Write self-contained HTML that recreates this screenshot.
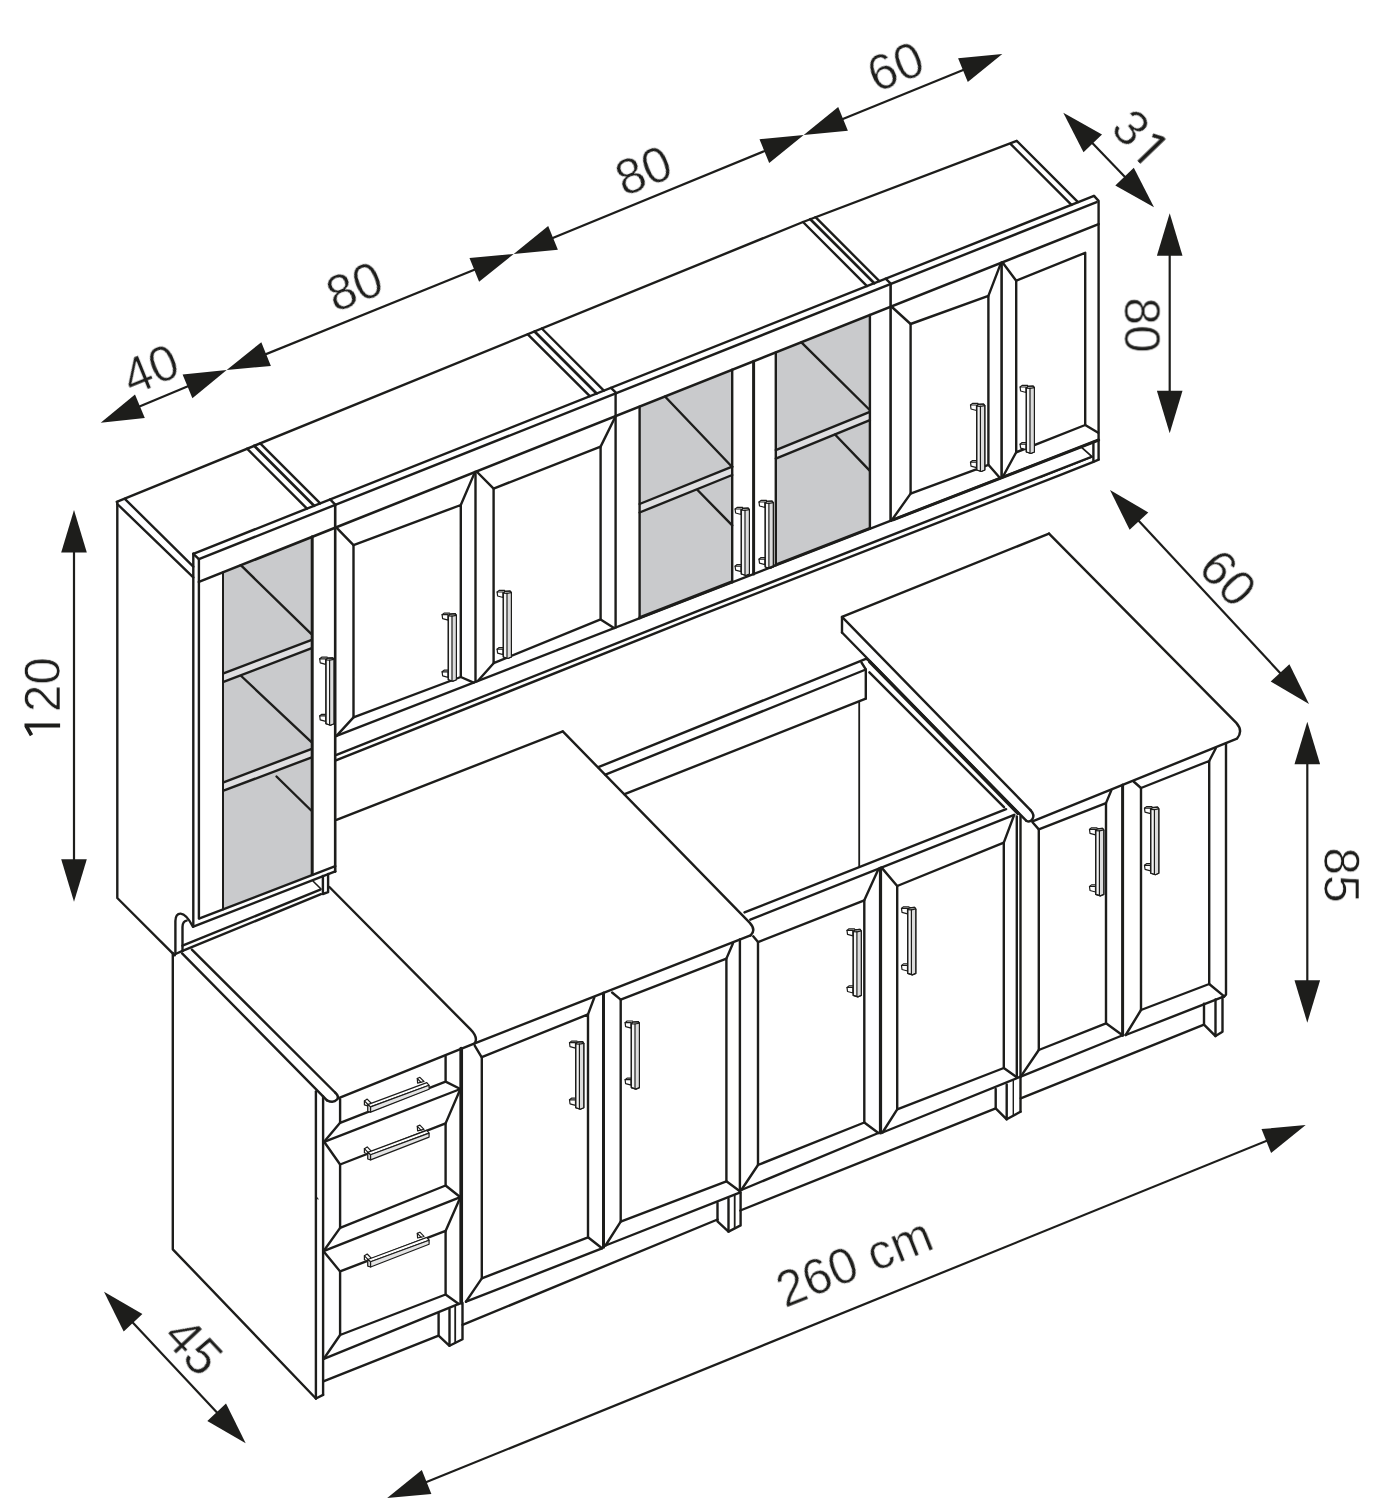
<!DOCTYPE html>
<html><head><meta charset="utf-8"><title>Kitchen cabinet dimensions</title>
<style>
html,body{margin:0;padding:0;background:#fff;}
body{width:1385px;height:1500px;overflow:hidden;font-family:"Liberation Sans",sans-serif;}
svg{display:block;}
text{font-family:"Liberation Sans",sans-serif;fill:#1d1d1b;}
</style></head><body>
<svg width="1385" height="1500" viewBox="0 0 1385 1500">
<rect width="1385" height="1500" fill="#fff"/>
<path d="M116.7 501.9 L803 222 L1016.7 140.8 L1078 202.1" fill="none" stroke="#1d1d1b" stroke-width="2.4" stroke-linejoin="round" stroke-linecap="round"/>
<path d="M1010.8 144.2 L1071.5 204.9" fill="none" stroke="#1d1d1b" stroke-width="2.4" stroke-linejoin="round" stroke-linecap="round"/>
<path d="M117.3 504 L193.3 577.4" fill="none" stroke="#1d1d1b" stroke-width="2.4" stroke-linejoin="round" stroke-linecap="round"/>
<path d="M124.8 498.8 L193.3 566.7" fill="none" stroke="#1d1d1b" stroke-width="2.4" stroke-linejoin="round" stroke-linecap="round"/>
<path d="M117.3 501.9 L117.3 898 L174.7 955.3" fill="none" stroke="#1d1d1b" stroke-width="2.4" stroke-linejoin="round" stroke-linecap="round"/>
<path d="M247.1 448.7 L307 508.6" fill="none" stroke="#1d1d1b" stroke-width="2.4" stroke-linejoin="round" stroke-linecap="round"/>
<path d="M254.2 445.8 L314.1 505.8" fill="none" stroke="#1d1d1b" stroke-width="2.7" stroke-linejoin="round" stroke-linecap="round"/>
<path d="M260.2 443.4 L320.2 503.4" fill="none" stroke="#1d1d1b" stroke-width="2.4" stroke-linejoin="round" stroke-linecap="round"/>
<path d="M527.8 334.3 L589.8 396.2" fill="none" stroke="#1d1d1b" stroke-width="2.4" stroke-linejoin="round" stroke-linecap="round"/>
<path d="M534.6 331.5 L596.6 393.5" fill="none" stroke="#1d1d1b" stroke-width="2.7" stroke-linejoin="round" stroke-linecap="round"/>
<path d="M541.8 328.5 L603.9 390.6" fill="none" stroke="#1d1d1b" stroke-width="2.4" stroke-linejoin="round" stroke-linecap="round"/>
<path d="M803 222 L867 286.1" fill="none" stroke="#1d1d1b" stroke-width="2.4" stroke-linejoin="round" stroke-linecap="round"/>
<path d="M810.3 219.2 L874.3 283.2" fill="none" stroke="#1d1d1b" stroke-width="2.7" stroke-linejoin="round" stroke-linecap="round"/>
<path d="M815.5 217.2 L879.4 281.1" fill="none" stroke="#1d1d1b" stroke-width="2.4" stroke-linejoin="round" stroke-linecap="round"/>
<path d="M193.3 553.8 L193.3 926.3" fill="none" stroke="#1d1d1b" stroke-width="2.4" stroke-linejoin="round" stroke-linecap="round"/>
<path d="M198.9 559.1 L198.9 918.5" fill="none" stroke="#1d1d1b" stroke-width="2.4" stroke-linejoin="round" stroke-linecap="round"/>
<path d="M223.5 572.1 L311.8 537 L311.8 874.8 L223.5 908.8 Z" fill="#c9cacc" stroke="none" stroke-width="0" stroke-linejoin="round" stroke-linecap="round"/>
<path d="M223.5 673.4 L311.8 639.8 L311.8 648.2 L223.5 681.8 Z" fill="#dfdfe1" stroke="none" stroke-width="0" stroke-linejoin="round" stroke-linecap="round"/>
<path d="M223.5 673.4 L311.8 639.8" fill="none" stroke="#1d1d1b" stroke-width="2.4" stroke-linejoin="round" stroke-linecap="round"/>
<path d="M223.5 681.8 L311.8 648.2" fill="none" stroke="#1d1d1b" stroke-width="2.4" stroke-linejoin="round" stroke-linecap="round"/>
<path d="M223.5 782.3 L311.8 748.9 L311.8 757.3 L223.5 790.7 Z" fill="#dfdfe1" stroke="none" stroke-width="0" stroke-linejoin="round" stroke-linecap="round"/>
<path d="M223.5 782.3 L311.8 748.9" fill="none" stroke="#1d1d1b" stroke-width="2.4" stroke-linejoin="round" stroke-linecap="round"/>
<path d="M223.5 790.7 L311.8 757.3" fill="none" stroke="#1d1d1b" stroke-width="2.4" stroke-linejoin="round" stroke-linecap="round"/>
<path d="M240.8 565.2 L311.2 633.8" fill="none" stroke="#1d1d1b" stroke-width="2.4" stroke-linejoin="round" stroke-linecap="round"/>
<path d="M241.2 676 L311.2 741.8" fill="none" stroke="#1d1d1b" stroke-width="2.4" stroke-linejoin="round" stroke-linecap="round"/>
<path d="M276.5 776.5 L311.2 810.5" fill="none" stroke="#1d1d1b" stroke-width="2.4" stroke-linejoin="round" stroke-linecap="round"/>
<path d="M223 572.3 L223 909.4" fill="none" stroke="#1d1d1b" stroke-width="2" stroke-linejoin="round" stroke-linecap="round"/>
<path d="M312.2 536.8 L312.2 874.4" fill="none" stroke="#1d1d1b" stroke-width="3" stroke-linejoin="round" stroke-linecap="round"/>
<path d="M199.6 918.4 L335.3 866.2" fill="none" stroke="#1d1d1b" stroke-width="2.4" stroke-linejoin="round" stroke-linecap="round"/>
<path d="M193.3 926.6 L335.3 871.4" fill="none" stroke="#1d1d1b" stroke-width="2.4" stroke-linejoin="round" stroke-linecap="round"/>
<path d="M335.2 504.9 L335.2 871.6" fill="none" stroke="#1d1d1b" stroke-width="2.6" stroke-linejoin="round" stroke-linecap="round"/>
<path d="M175.4 954 L175.4 921 Q175.6 913.5 180.6 913.6 Q186.5 914 192.9 926.7" fill="none" stroke="#1d1d1b" stroke-width="2.4" stroke-linejoin="round" stroke-linecap="round"/>
<path d="M182.5 950.9 L182.5 927 Q182.7 921 186.6 920.6" fill="none" stroke="#1d1d1b" stroke-width="2.4" stroke-linejoin="round" stroke-linecap="round"/>
<path d="M175.4 954 L182.5 950.9" fill="none" stroke="#1d1d1b" stroke-width="2.4" stroke-linejoin="round" stroke-linecap="round"/>
<path d="M182.5 945.7 L320.3 889.6" fill="none" stroke="#1d1d1b" stroke-width="2.4" stroke-linejoin="round" stroke-linecap="round"/>
<path d="M182.5 950.9 L321 894.2" fill="none" stroke="#1d1d1b" stroke-width="2.4" stroke-linejoin="round" stroke-linecap="round"/>
<path d="M322.9 876 L322.9 894 L328.1 892.2 L328.1 874" fill="none" stroke="#1d1d1b" stroke-width="2.4" stroke-linejoin="round" stroke-linecap="round"/>
<path d="M313.2 881.2 L321 889" fill="none" stroke="#1d1d1b" stroke-width="1.6" stroke-linejoin="round" stroke-linecap="round"/>
<path d="M319.7 658.8 L325.7 658.8 L325.7 664.3 L320.2 662.8 Z" fill="#fff" stroke="#1d1d1b" stroke-width="1.2" stroke-linejoin="round" stroke-linecap="round"/>
<path d="M319.7 658.8 L321.7 657.2 L327.2 657.2" fill="none" stroke="#1d1d1b" stroke-width="1.2" stroke-linejoin="round" stroke-linecap="round"/>
<path d="M319.7 715.9 L325.7 715.9 L325.7 721.4 L320.2 719.9 Z" fill="#fff" stroke="#1d1d1b" stroke-width="1.2" stroke-linejoin="round" stroke-linecap="round"/>
<path d="M319.7 715.9 L321.7 714.3 L327.2 714.3" fill="none" stroke="#1d1d1b" stroke-width="1.2" stroke-linejoin="round" stroke-linecap="round"/>
<path d="M325.9 660 L327.4 658.2 L332.8 657.8 L334 659.4 L334 723.8 L330.5 725.3 L325.9 723.8 Z" fill="#f3f3f3" stroke="#1d1d1b" stroke-width="1.2" stroke-linejoin="round" stroke-linecap="round"/>
<path d="M329.6 660.2 L333.6 659.6 L333.6 723.5 L329.6 724.7 Z" fill="#dcdcdc" stroke="none" stroke-width="0" stroke-linejoin="round" stroke-linecap="round"/>
<path d="M329.6 660 L329.6 724.8" fill="none" stroke="#1d1d1b" stroke-width="1.2" stroke-linejoin="round" stroke-linecap="round"/>
<path d="M325.9 660 L329.6 660.2 L334 659.4" fill="none" stroke="#1d1d1b" stroke-width="1.2" stroke-linejoin="round" stroke-linecap="round"/>
<path d="M325.9 660 L327.4 658.2 L332.8 657.8 L334 659.4 L334 723.8 L330.5 725.3 L325.9 723.8 Z" fill="none" stroke="#1d1d1b" stroke-width="1.2" stroke-linejoin="round" stroke-linecap="round"/>
<path d="M475.5 471.9 L475.5 681.9" fill="none" stroke="#1d1d1b" stroke-width="2.4" stroke-linejoin="round" stroke-linecap="round"/>
<path d="M353.5 545.1 L460.8 505 L460.8 677 L353.5 717.4 Z" fill="none" stroke="#1d1d1b" stroke-width="2.4" stroke-linejoin="round" stroke-linecap="round"/>
<path d="M336.2 527.3 L353.5 545.1" fill="none" stroke="#1d1d1b" stroke-width="2.4" stroke-linejoin="round" stroke-linecap="round"/>
<path d="M474.9 472.1 L460.8 505" fill="none" stroke="#1d1d1b" stroke-width="2.4" stroke-linejoin="round" stroke-linecap="round"/>
<path d="M473.6 682.7 L460.8 677" fill="none" stroke="#1d1d1b" stroke-width="2.4" stroke-linejoin="round" stroke-linecap="round"/>
<path d="M336.5 735.9 L353.5 717.4" fill="none" stroke="#1d1d1b" stroke-width="2.4" stroke-linejoin="round" stroke-linecap="round"/>
<path d="M493.6 488.6 L600.6 446.6 L600.6 619.4 L493.6 663.2 Z" fill="none" stroke="#1d1d1b" stroke-width="2.4" stroke-linejoin="round" stroke-linecap="round"/>
<path d="M476.6 471.5 L493.6 488.6" fill="none" stroke="#1d1d1b" stroke-width="2.4" stroke-linejoin="round" stroke-linecap="round"/>
<path d="M615.6 416.2 L600.6 446.6" fill="none" stroke="#1d1d1b" stroke-width="2.4" stroke-linejoin="round" stroke-linecap="round"/>
<path d="M614 628.1 L600.6 619.4" fill="none" stroke="#1d1d1b" stroke-width="2.4" stroke-linejoin="round" stroke-linecap="round"/>
<path d="M477.8 681 L493.6 663.2" fill="none" stroke="#1d1d1b" stroke-width="2.4" stroke-linejoin="round" stroke-linecap="round"/>
<path d="M442.1 614.7 L448.1 614.7 L448.1 620.2 L442.6 618.7 Z" fill="#fff" stroke="#1d1d1b" stroke-width="1.2" stroke-linejoin="round" stroke-linecap="round"/>
<path d="M442.1 614.7 L444.1 613.1 L449.6 613.1" fill="none" stroke="#1d1d1b" stroke-width="1.2" stroke-linejoin="round" stroke-linecap="round"/>
<path d="M442.1 671.8 L448.1 671.8 L448.1 677.3 L442.6 675.8 Z" fill="#fff" stroke="#1d1d1b" stroke-width="1.2" stroke-linejoin="round" stroke-linecap="round"/>
<path d="M442.1 671.8 L444.1 670.2 L449.6 670.2" fill="none" stroke="#1d1d1b" stroke-width="1.2" stroke-linejoin="round" stroke-linecap="round"/>
<path d="M448.3 615.9 L449.8 614.1 L455.2 613.7 L456.4 615.3 L456.4 679.7 L452.9 681.2 L448.3 679.7 Z" fill="#f3f3f3" stroke="#1d1d1b" stroke-width="1.2" stroke-linejoin="round" stroke-linecap="round"/>
<path d="M452 616.1 L456 615.5 L456 679.4 L452 680.6 Z" fill="#dcdcdc" stroke="none" stroke-width="0" stroke-linejoin="round" stroke-linecap="round"/>
<path d="M452 615.9 L452 680.7" fill="none" stroke="#1d1d1b" stroke-width="1.2" stroke-linejoin="round" stroke-linecap="round"/>
<path d="M448.3 615.9 L452 616.1 L456.4 615.3" fill="none" stroke="#1d1d1b" stroke-width="1.2" stroke-linejoin="round" stroke-linecap="round"/>
<path d="M448.3 615.9 L449.8 614.1 L455.2 613.7 L456.4 615.3 L456.4 679.7 L452.9 681.2 L448.3 679.7 Z" fill="none" stroke="#1d1d1b" stroke-width="1.2" stroke-linejoin="round" stroke-linecap="round"/>
<path d="M497.1 592 L503.1 592 L503.1 597.5 L497.6 596 Z" fill="#fff" stroke="#1d1d1b" stroke-width="1.2" stroke-linejoin="round" stroke-linecap="round"/>
<path d="M497.1 592 L499.1 590.4 L504.6 590.4" fill="none" stroke="#1d1d1b" stroke-width="1.2" stroke-linejoin="round" stroke-linecap="round"/>
<path d="M497.1 649.1 L503.1 649.1 L503.1 654.6 L497.6 653.1 Z" fill="#fff" stroke="#1d1d1b" stroke-width="1.2" stroke-linejoin="round" stroke-linecap="round"/>
<path d="M497.1 649.1 L499.1 647.5 L504.6 647.5" fill="none" stroke="#1d1d1b" stroke-width="1.2" stroke-linejoin="round" stroke-linecap="round"/>
<path d="M503.3 593.2 L504.8 591.4 L510.2 591 L511.4 592.6 L511.4 657 L507.9 658.5 L503.3 657 Z" fill="#f3f3f3" stroke="#1d1d1b" stroke-width="1.2" stroke-linejoin="round" stroke-linecap="round"/>
<path d="M507 593.4 L511 592.8 L511 656.7 L507 657.9 Z" fill="#dcdcdc" stroke="none" stroke-width="0" stroke-linejoin="round" stroke-linecap="round"/>
<path d="M507 593.2 L507 658" fill="none" stroke="#1d1d1b" stroke-width="1.2" stroke-linejoin="round" stroke-linecap="round"/>
<path d="M503.3 593.2 L507 593.4 L511.4 592.6" fill="none" stroke="#1d1d1b" stroke-width="1.2" stroke-linejoin="round" stroke-linecap="round"/>
<path d="M503.3 593.2 L504.8 591.4 L510.2 591 L511.4 592.6 L511.4 657 L507.9 658.5 L503.3 657 Z" fill="none" stroke="#1d1d1b" stroke-width="1.2" stroke-linejoin="round" stroke-linecap="round"/>
<path d="M1001.6 262.7 L1001.6 477.6" fill="none" stroke="#1d1d1b" stroke-width="2.6" stroke-linejoin="round" stroke-linecap="round"/>
<path d="M910.6 324 L988.4 295.9 L988.4 464.8 L910.6 493.6 Z" fill="none" stroke="#1d1d1b" stroke-width="2.4" stroke-linejoin="round" stroke-linecap="round"/>
<path d="M891.4 306.5 L910.6 324" fill="none" stroke="#1d1d1b" stroke-width="2.4" stroke-linejoin="round" stroke-linecap="round"/>
<path d="M1001 262.9 L988.4 295.9" fill="none" stroke="#1d1d1b" stroke-width="2.4" stroke-linejoin="round" stroke-linecap="round"/>
<path d="M1000.2 478.2 L988.4 464.8" fill="none" stroke="#1d1d1b" stroke-width="2.4" stroke-linejoin="round" stroke-linecap="round"/>
<path d="M891.6 520.4 L910.6 493.6" fill="none" stroke="#1d1d1b" stroke-width="2.4" stroke-linejoin="round" stroke-linecap="round"/>
<path d="M1016.2 280.7 L1085.2 252.8 L1085.2 425 L1016.2 452.3 Z" fill="none" stroke="#1d1d1b" stroke-width="2.4" stroke-linejoin="round" stroke-linecap="round"/>
<path d="M1002.4 262.3 L1016.2 280.7" fill="none" stroke="#1d1d1b" stroke-width="2.4" stroke-linejoin="round" stroke-linecap="round"/>
<path d="M1098.2 432.8 L1085.2 425" fill="none" stroke="#1d1d1b" stroke-width="2.4" stroke-linejoin="round" stroke-linecap="round"/>
<path d="M1002.6 477.3 L1016.2 452.3" fill="none" stroke="#1d1d1b" stroke-width="2.4" stroke-linejoin="round" stroke-linecap="round"/>
<path d="M970.5 405 L976.5 405 L976.5 410.5 L971 409 Z" fill="#fff" stroke="#1d1d1b" stroke-width="1.2" stroke-linejoin="round" stroke-linecap="round"/>
<path d="M970.5 405 L972.5 403.4 L978 403.4" fill="none" stroke="#1d1d1b" stroke-width="1.2" stroke-linejoin="round" stroke-linecap="round"/>
<path d="M970.5 462.1 L976.5 462.1 L976.5 467.6 L971 466.1 Z" fill="#fff" stroke="#1d1d1b" stroke-width="1.2" stroke-linejoin="round" stroke-linecap="round"/>
<path d="M970.5 462.1 L972.5 460.5 L978 460.5" fill="none" stroke="#1d1d1b" stroke-width="1.2" stroke-linejoin="round" stroke-linecap="round"/>
<path d="M976.7 406.2 L978.2 404.4 L983.6 404 L984.8 405.6 L984.8 470 L981.3 471.5 L976.7 470 Z" fill="#f3f3f3" stroke="#1d1d1b" stroke-width="1.2" stroke-linejoin="round" stroke-linecap="round"/>
<path d="M980.4 406.4 L984.4 405.8 L984.4 469.7 L980.4 470.9 Z" fill="#dcdcdc" stroke="none" stroke-width="0" stroke-linejoin="round" stroke-linecap="round"/>
<path d="M980.4 406.2 L980.4 471" fill="none" stroke="#1d1d1b" stroke-width="1.2" stroke-linejoin="round" stroke-linecap="round"/>
<path d="M976.7 406.2 L980.4 406.4 L984.8 405.6" fill="none" stroke="#1d1d1b" stroke-width="1.2" stroke-linejoin="round" stroke-linecap="round"/>
<path d="M976.7 406.2 L978.2 404.4 L983.6 404 L984.8 405.6 L984.8 470 L981.3 471.5 L976.7 470 Z" fill="none" stroke="#1d1d1b" stroke-width="1.2" stroke-linejoin="round" stroke-linecap="round"/>
<path d="M1020.1 387 L1026.1 387 L1026.1 392.5 L1020.6 391 Z" fill="#fff" stroke="#1d1d1b" stroke-width="1.2" stroke-linejoin="round" stroke-linecap="round"/>
<path d="M1020.1 387 L1022.1 385.4 L1027.6 385.4" fill="none" stroke="#1d1d1b" stroke-width="1.2" stroke-linejoin="round" stroke-linecap="round"/>
<path d="M1020.1 444.1 L1026.1 444.1 L1026.1 449.6 L1020.6 448.1 Z" fill="#fff" stroke="#1d1d1b" stroke-width="1.2" stroke-linejoin="round" stroke-linecap="round"/>
<path d="M1020.1 444.1 L1022.1 442.5 L1027.6 442.5" fill="none" stroke="#1d1d1b" stroke-width="1.2" stroke-linejoin="round" stroke-linecap="round"/>
<path d="M1026.3 388.2 L1027.8 386.4 L1033.2 386 L1034.4 387.6 L1034.4 452 L1030.9 453.5 L1026.3 452 Z" fill="#f3f3f3" stroke="#1d1d1b" stroke-width="1.2" stroke-linejoin="round" stroke-linecap="round"/>
<path d="M1030 388.4 L1034 387.8 L1034 451.7 L1030 452.9 Z" fill="#dcdcdc" stroke="none" stroke-width="0" stroke-linejoin="round" stroke-linecap="round"/>
<path d="M1030 388.2 L1030 453" fill="none" stroke="#1d1d1b" stroke-width="1.2" stroke-linejoin="round" stroke-linecap="round"/>
<path d="M1026.3 388.2 L1030 388.4 L1034.4 387.6" fill="none" stroke="#1d1d1b" stroke-width="1.2" stroke-linejoin="round" stroke-linecap="round"/>
<path d="M1026.3 388.2 L1027.8 386.4 L1033.2 386 L1034.4 387.6 L1034.4 452 L1030.9 453.5 L1026.3 452 Z" fill="none" stroke="#1d1d1b" stroke-width="1.2" stroke-linejoin="round" stroke-linecap="round"/>
<path d="M639.6 406.6 L732.2 369.8 L732.2 581.2 L639.6 617.2 Z" fill="#c9cacc" stroke="none" stroke-width="0" stroke-linejoin="round" stroke-linecap="round"/>
<path d="M639.6 504 L732.2 466.7 L732.2 475 L639.6 512.5 Z" fill="#dfdfe1" stroke="none" stroke-width="0" stroke-linejoin="round" stroke-linecap="round"/>
<path d="M639.6 504 L732.2 466.7" fill="none" stroke="#1d1d1b" stroke-width="2.4" stroke-linejoin="round" stroke-linecap="round"/>
<path d="M639.6 512.5 L732.2 475" fill="none" stroke="#1d1d1b" stroke-width="2.4" stroke-linejoin="round" stroke-linecap="round"/>
<path d="M665 396.5 L732.2 467" fill="none" stroke="#1d1d1b" stroke-width="2.4" stroke-linejoin="round" stroke-linecap="round"/>
<path d="M697.5 490 L732.2 525.4" fill="none" stroke="#1d1d1b" stroke-width="2.4" stroke-linejoin="round" stroke-linecap="round"/>
<path d="M639.6 406.6 L639.6 618.2" fill="none" stroke="#1d1d1b" stroke-width="2.4" stroke-linejoin="round" stroke-linecap="round"/>
<path d="M732.2 369.8 L732.2 582.2" fill="none" stroke="#1d1d1b" stroke-width="2.4" stroke-linejoin="round" stroke-linecap="round"/>
<path d="M639.6 617.6 L732.2 581.6" fill="none" stroke="#1d1d1b" stroke-width="2.8" stroke-linejoin="round" stroke-linecap="round"/>
<path d="M775.8 352.5 L869.9 315 L869.9 527.8 L775.8 564.3 Z" fill="#c9cacc" stroke="none" stroke-width="0" stroke-linejoin="round" stroke-linecap="round"/>
<path d="M775.8 450.1 L869.9 411.8 L869.9 420.1 L775.8 458.6 Z" fill="#dfdfe1" stroke="none" stroke-width="0" stroke-linejoin="round" stroke-linecap="round"/>
<path d="M775.8 450.1 L869.9 411.8" fill="none" stroke="#1d1d1b" stroke-width="2.4" stroke-linejoin="round" stroke-linecap="round"/>
<path d="M775.8 458.6 L869.9 420.1" fill="none" stroke="#1d1d1b" stroke-width="2.4" stroke-linejoin="round" stroke-linecap="round"/>
<path d="M801.4 342.3 L869.7 410" fill="none" stroke="#1d1d1b" stroke-width="2.4" stroke-linejoin="round" stroke-linecap="round"/>
<path d="M835 434.5 L869.7 470.6" fill="none" stroke="#1d1d1b" stroke-width="2.4" stroke-linejoin="round" stroke-linecap="round"/>
<path d="M775.8 352.5 L775.8 565.3" fill="none" stroke="#1d1d1b" stroke-width="2.4" stroke-linejoin="round" stroke-linecap="round"/>
<path d="M869.9 315 L869.9 528.8" fill="none" stroke="#1d1d1b" stroke-width="2.4" stroke-linejoin="round" stroke-linecap="round"/>
<path d="M775.8 564.7 L869.9 528.2" fill="none" stroke="#1d1d1b" stroke-width="2.8" stroke-linejoin="round" stroke-linecap="round"/>
<path d="M753.6 361.3 L753.6 573.9" fill="none" stroke="#1d1d1b" stroke-width="3" stroke-linejoin="round" stroke-linecap="round"/>
<path d="M735.1 509 L741.1 509 L741.1 514.5 L735.6 513 Z" fill="#fff" stroke="#1d1d1b" stroke-width="1.2" stroke-linejoin="round" stroke-linecap="round"/>
<path d="M735.1 509 L737.1 507.4 L742.6 507.4" fill="none" stroke="#1d1d1b" stroke-width="1.2" stroke-linejoin="round" stroke-linecap="round"/>
<path d="M735.1 566.1 L741.1 566.1 L741.1 571.6 L735.6 570.1 Z" fill="#fff" stroke="#1d1d1b" stroke-width="1.2" stroke-linejoin="round" stroke-linecap="round"/>
<path d="M735.1 566.1 L737.1 564.5 L742.6 564.5" fill="none" stroke="#1d1d1b" stroke-width="1.2" stroke-linejoin="round" stroke-linecap="round"/>
<path d="M741.3 510.2 L742.8 508.4 L748.2 508 L749.4 509.6 L749.4 574 L745.9 575.5 L741.3 574 Z" fill="#f3f3f3" stroke="#1d1d1b" stroke-width="1.2" stroke-linejoin="round" stroke-linecap="round"/>
<path d="M745 510.4 L749 509.8 L749 573.7 L745 574.9 Z" fill="#dcdcdc" stroke="none" stroke-width="0" stroke-linejoin="round" stroke-linecap="round"/>
<path d="M745 510.2 L745 575" fill="none" stroke="#1d1d1b" stroke-width="1.2" stroke-linejoin="round" stroke-linecap="round"/>
<path d="M741.3 510.2 L745 510.4 L749.4 509.6" fill="none" stroke="#1d1d1b" stroke-width="1.2" stroke-linejoin="round" stroke-linecap="round"/>
<path d="M741.3 510.2 L742.8 508.4 L748.2 508 L749.4 509.6 L749.4 574 L745.9 575.5 L741.3 574 Z" fill="none" stroke="#1d1d1b" stroke-width="1.2" stroke-linejoin="round" stroke-linecap="round"/>
<path d="M759 502 L765 502 L765 507.5 L759.5 506 Z" fill="#fff" stroke="#1d1d1b" stroke-width="1.2" stroke-linejoin="round" stroke-linecap="round"/>
<path d="M759 502 L761 500.4 L766.5 500.4" fill="none" stroke="#1d1d1b" stroke-width="1.2" stroke-linejoin="round" stroke-linecap="round"/>
<path d="M759 559.1 L765 559.1 L765 564.6 L759.5 563.1 Z" fill="#fff" stroke="#1d1d1b" stroke-width="1.2" stroke-linejoin="round" stroke-linecap="round"/>
<path d="M759 559.1 L761 557.5 L766.5 557.5" fill="none" stroke="#1d1d1b" stroke-width="1.2" stroke-linejoin="round" stroke-linecap="round"/>
<path d="M765.2 503.2 L766.7 501.4 L772.1 501 L773.3 502.6 L773.3 567 L769.8 568.5 L765.2 567 Z" fill="#f3f3f3" stroke="#1d1d1b" stroke-width="1.2" stroke-linejoin="round" stroke-linecap="round"/>
<path d="M768.9 503.4 L772.9 502.8 L772.9 566.7 L768.9 567.9 Z" fill="#dcdcdc" stroke="none" stroke-width="0" stroke-linejoin="round" stroke-linecap="round"/>
<path d="M768.9 503.2 L768.9 568" fill="none" stroke="#1d1d1b" stroke-width="1.2" stroke-linejoin="round" stroke-linecap="round"/>
<path d="M765.2 503.2 L768.9 503.4 L773.3 502.6" fill="none" stroke="#1d1d1b" stroke-width="1.2" stroke-linejoin="round" stroke-linecap="round"/>
<path d="M765.2 503.2 L766.7 501.4 L772.1 501 L773.3 502.6 L773.3 567 L769.8 568.5 L765.2 567 Z" fill="none" stroke="#1d1d1b" stroke-width="1.2" stroke-linejoin="round" stroke-linecap="round"/>
<path d="M615.6 393.4 L615.6 627.5" fill="none" stroke="#1d1d1b" stroke-width="2.4" stroke-linejoin="round" stroke-linecap="round"/>
<path d="M890.6 284 L890.6 520.7" fill="none" stroke="#1d1d1b" stroke-width="2.6" stroke-linejoin="round" stroke-linecap="round"/>
<path d="M336.5 735.9 L1098.6 440" fill="none" stroke="#1d1d1b" stroke-width="2.4" stroke-linejoin="round" stroke-linecap="round"/>
<path d="M893 519.8 L1098.6 440" fill="none" stroke="#1d1d1b" stroke-width="3" stroke-linejoin="round" stroke-linecap="round"/>
<path d="M336.5 754.8 L700 610.2 L1091 457" fill="none" stroke="#1d1d1b" stroke-width="2.4" stroke-linejoin="round" stroke-linecap="round"/>
<path d="M336.5 760.2 L700 615.4 L1060 475.1 L1093.4 461.8 L1098.6 459.6" fill="none" stroke="#1d1d1b" stroke-width="2.4" stroke-linejoin="round" stroke-linecap="round"/>
<path d="M1093.4 442 L1093.4 461.8" fill="none" stroke="#1d1d1b" stroke-width="2.4" stroke-linejoin="round" stroke-linecap="round"/>
<path d="M1081.6 447.4 L1092 456.6" fill="none" stroke="#1d1d1b" stroke-width="1.8" stroke-linejoin="round" stroke-linecap="round"/>
<path d="M1040 477.4 L1092 456.9" fill="none" stroke="#1d1d1b" stroke-width="1.6" stroke-linejoin="round" stroke-linecap="round"/>
<path d="M193.3 553.8 L1094 195.9" fill="none" stroke="#1d1d1b" stroke-width="2.4" stroke-linejoin="round" stroke-linecap="round"/>
<path d="M198.9 559.1 L1096.6 202.1" fill="none" stroke="#1d1d1b" stroke-width="2.4" stroke-linejoin="round" stroke-linecap="round"/>
<path d="M198.9 581.9 L1098.6 224.1" fill="none" stroke="#1d1d1b" stroke-width="2.6" stroke-linejoin="round" stroke-linecap="round"/>
<path d="M193.3 553.8 L198.9 559.1" fill="none" stroke="#1d1d1b" stroke-width="2.4" stroke-linejoin="round" stroke-linecap="round"/>
<path d="M1094 195.9 L1098.6 200.9 L1098.6 459.6" fill="none" stroke="#1d1d1b" stroke-width="2.4" stroke-linejoin="round" stroke-linecap="round"/>
<path d="M330.1 499.4 L335.5 504.8" fill="none" stroke="#1d1d1b" stroke-width="2.4" stroke-linejoin="round" stroke-linecap="round"/>
<path d="M611 387.8 L616.4 393.1" fill="none" stroke="#1d1d1b" stroke-width="2.4" stroke-linejoin="round" stroke-linecap="round"/>
<path d="M885.6 278.7 L891 283.9" fill="none" stroke="#1d1d1b" stroke-width="2.4" stroke-linejoin="round" stroke-linecap="round"/>
<path d="M172.8 953 L172.8 1249.3 L315.9 1398.5" fill="none" stroke="#1d1d1b" stroke-width="2.4" stroke-linejoin="round" stroke-linecap="round"/>
<path d="M182.1 953.3 L327 1100.3" fill="none" stroke="#1d1d1b" stroke-width="2.4" stroke-linejoin="round" stroke-linecap="round"/>
<path d="M191.9 949.6 L335.1 1092.5" fill="none" stroke="#1d1d1b" stroke-width="2.4" stroke-linejoin="round" stroke-linecap="round"/>
<path d="M335.1 1092.5 Q339.5 1096.5 337 1099.5 Q333.5 1103.5 327 1100.3" fill="none" stroke="#1d1d1b" stroke-width="2.4" stroke-linejoin="round" stroke-linecap="round"/>
<path d="M329.4 887 L470.5 1029.4 Q478.5 1037.5 474.7 1043.3" fill="none" stroke="#1d1d1b" stroke-width="2.4" stroke-linejoin="round" stroke-linecap="round"/>
<path d="M338 1098.4 L474.7 1043.3" fill="none" stroke="#1d1d1b" stroke-width="2.4" stroke-linejoin="round" stroke-linecap="round"/>
<path d="M315.9 1091.5 L315.9 1398.5" fill="none" stroke="#1d1d1b" stroke-width="2.4" stroke-linejoin="round" stroke-linecap="round"/>
<path d="M323.1 1096.5 L323.1 1394.9" fill="none" stroke="#1d1d1b" stroke-width="2.4" stroke-linejoin="round" stroke-linecap="round"/>
<path d="M315.9 1398.5 L323.1 1394.9" fill="none" stroke="#1d1d1b" stroke-width="2.4" stroke-linejoin="round" stroke-linecap="round"/>
<path d="M316.4 1197 L318 1199" fill="none" stroke="#1d1d1b" stroke-width="1.2" stroke-linejoin="round" stroke-linecap="round"/>
<path d="M340.1 1099.3 L340.1 1122.8 L445.6 1081.7 L445.6 1056.5" fill="none" stroke="#1d1d1b" stroke-width="2.4" stroke-linejoin="round" stroke-linecap="round"/>
<path d="M340.1 1122.8 L324.1 1141.8" fill="none" stroke="#1d1d1b" stroke-width="2.4" stroke-linejoin="round" stroke-linecap="round"/>
<path d="M445.6 1081.7 L460.4 1089" fill="none" stroke="#1d1d1b" stroke-width="2.4" stroke-linejoin="round" stroke-linecap="round"/>
<path d="M324.1 1141.8 L460.4 1089" fill="none" stroke="#1d1d1b" stroke-width="2.4" stroke-linejoin="round" stroke-linecap="round"/>
<path d="M340.1 1164.5 L445.6 1123.4 L445.6 1185.5 L340.1 1227.9 Z" fill="none" stroke="#1d1d1b" stroke-width="2.4" stroke-linejoin="round" stroke-linecap="round"/>
<path d="M324.1 1141.8 L340.1 1164.5" fill="none" stroke="#1d1d1b" stroke-width="2.4" stroke-linejoin="round" stroke-linecap="round"/>
<path d="M460.4 1089 L445.6 1123.4" fill="none" stroke="#1d1d1b" stroke-width="2.4" stroke-linejoin="round" stroke-linecap="round"/>
<path d="M460.4 1197.2 L445.6 1185.5" fill="none" stroke="#1d1d1b" stroke-width="2.4" stroke-linejoin="round" stroke-linecap="round"/>
<path d="M323.5 1251.2 L340.1 1227.9" fill="none" stroke="#1d1d1b" stroke-width="2.4" stroke-linejoin="round" stroke-linecap="round"/>
<path d="M323.5 1251.2 L460.4 1197.2" fill="none" stroke="#1d1d1b" stroke-width="2.4" stroke-linejoin="round" stroke-linecap="round"/>
<path d="M340.1 1271.4 L445.6 1230.9 L445.6 1294.5 L340.1 1335 Z" fill="none" stroke="#1d1d1b" stroke-width="2.4" stroke-linejoin="round" stroke-linecap="round"/>
<path d="M323.5 1251.2 L340.1 1271.4" fill="none" stroke="#1d1d1b" stroke-width="2.4" stroke-linejoin="round" stroke-linecap="round"/>
<path d="M460.4 1197.2 L445.6 1230.9" fill="none" stroke="#1d1d1b" stroke-width="2.4" stroke-linejoin="round" stroke-linecap="round"/>
<path d="M458.8 1303.9 L445.6 1294.5" fill="none" stroke="#1d1d1b" stroke-width="2.4" stroke-linejoin="round" stroke-linecap="round"/>
<path d="M323.8 1358.8 L340.1 1335" fill="none" stroke="#1d1d1b" stroke-width="2.4" stroke-linejoin="round" stroke-linecap="round"/>
<path d="M323.8 1358.8 L458.8 1303.9" fill="none" stroke="#1d1d1b" stroke-width="2.4" stroke-linejoin="round" stroke-linecap="round"/>
<path d="M324 1381.2 L438.6 1335.7" fill="none" stroke="#1d1d1b" stroke-width="2.4" stroke-linejoin="round" stroke-linecap="round"/>
<path d="M461.2 1048.5 L461.2 1303" fill="none" stroke="#1d1d1b" stroke-width="3.7" stroke-linejoin="round" stroke-linecap="round"/>
<path d="M438.6 1313.3 L438.6 1335.7 L449.5 1345.8 L449.5 1309" fill="none" stroke="#1d1d1b" stroke-width="2.4" stroke-linejoin="round" stroke-linecap="round"/>
<path d="M449.5 1345.8 L462.5 1339.3 L462.5 1303" fill="none" stroke="#1d1d1b" stroke-width="2.4" stroke-linejoin="round" stroke-linecap="round"/>
<path d="M455.2 1306 L455.2 1343" fill="none" stroke="#1d1d1b" stroke-width="1.8" stroke-linejoin="round" stroke-linecap="round"/>
<path d="M364.4 1104.9 L364.4 1100.9 L367.2 1099.1 L371.5 1103.5 L367.7 1105.9 Z" fill="#fff" stroke="#1d1d1b" stroke-width="1.2" stroke-linejoin="round" stroke-linecap="round"/>
<path d="M364.4 1100.9 L368 1104.5" fill="none" stroke="#1d1d1b" stroke-width="1.2" stroke-linejoin="round" stroke-linecap="round"/>
<path d="M417.6 1083.1 L417.3 1078.5 L419.9 1077.3 L424 1081.5 Z" fill="#fff" stroke="#1d1d1b" stroke-width="1.2" stroke-linejoin="round" stroke-linecap="round"/>
<path d="M417.3 1078.5 L421 1082.3" fill="none" stroke="#1d1d1b" stroke-width="1.2" stroke-linejoin="round" stroke-linecap="round"/>
<path d="M370.6 1106.9 L367.7 1104.6 L426.8 1082.6 L429.1 1085.3 Z" fill="#fff" stroke="#1d1d1b" stroke-width="1.2" stroke-linejoin="round" stroke-linecap="round"/>
<path d="M367.7 1104.6 L370.6 1106.9 L370.6 1112.1 L367.7 1111.2 Z" fill="#cfcfcf" stroke="#1d1d1b" stroke-width="1.2" stroke-linejoin="round" stroke-linecap="round"/>
<path d="M370.6 1106.9 L429.1 1085.3 L429.1 1089.3 L370.6 1112.1 Z" fill="#e4e4e4" stroke="#1d1d1b" stroke-width="1.2" stroke-linejoin="round" stroke-linecap="round"/>
<path d="M364.4 1152.7 L364.4 1148.7 L367.2 1146.9 L371.5 1151.3 L367.7 1153.7 Z" fill="#fff" stroke="#1d1d1b" stroke-width="1.2" stroke-linejoin="round" stroke-linecap="round"/>
<path d="M364.4 1148.7 L368 1152.3" fill="none" stroke="#1d1d1b" stroke-width="1.2" stroke-linejoin="round" stroke-linecap="round"/>
<path d="M417.6 1130.9 L417.3 1126.3 L419.9 1125.1 L424 1129.3 Z" fill="#fff" stroke="#1d1d1b" stroke-width="1.2" stroke-linejoin="round" stroke-linecap="round"/>
<path d="M417.3 1126.3 L421 1130.1" fill="none" stroke="#1d1d1b" stroke-width="1.2" stroke-linejoin="round" stroke-linecap="round"/>
<path d="M370.6 1154.7 L367.7 1152.4 L426.8 1130.4 L429.1 1133.1 Z" fill="#fff" stroke="#1d1d1b" stroke-width="1.2" stroke-linejoin="round" stroke-linecap="round"/>
<path d="M367.7 1152.4 L370.6 1154.7 L370.6 1159.9 L367.7 1159 Z" fill="#cfcfcf" stroke="#1d1d1b" stroke-width="1.2" stroke-linejoin="round" stroke-linecap="round"/>
<path d="M370.6 1154.7 L429.1 1133.1 L429.1 1137.1 L370.6 1159.9 Z" fill="#e4e4e4" stroke="#1d1d1b" stroke-width="1.2" stroke-linejoin="round" stroke-linecap="round"/>
<path d="M364.4 1259.8 L364.4 1255.8 L367.2 1254 L371.5 1258.4 L367.7 1260.8 Z" fill="#fff" stroke="#1d1d1b" stroke-width="1.2" stroke-linejoin="round" stroke-linecap="round"/>
<path d="M364.4 1255.8 L368 1259.4" fill="none" stroke="#1d1d1b" stroke-width="1.2" stroke-linejoin="round" stroke-linecap="round"/>
<path d="M417.6 1238 L417.3 1233.4 L419.9 1232.2 L424 1236.4 Z" fill="#fff" stroke="#1d1d1b" stroke-width="1.2" stroke-linejoin="round" stroke-linecap="round"/>
<path d="M417.3 1233.4 L421 1237.2" fill="none" stroke="#1d1d1b" stroke-width="1.2" stroke-linejoin="round" stroke-linecap="round"/>
<path d="M370.6 1261.8 L367.7 1259.5 L426.8 1237.5 L429.1 1240.2 Z" fill="#fff" stroke="#1d1d1b" stroke-width="1.2" stroke-linejoin="round" stroke-linecap="round"/>
<path d="M367.7 1259.5 L370.6 1261.8 L370.6 1267 L367.7 1266.1 Z" fill="#cfcfcf" stroke="#1d1d1b" stroke-width="1.2" stroke-linejoin="round" stroke-linecap="round"/>
<path d="M370.6 1261.8 L429.1 1240.2 L429.1 1244.2 L370.6 1267 Z" fill="#e4e4e4" stroke="#1d1d1b" stroke-width="1.2" stroke-linejoin="round" stroke-linecap="round"/>
<path d="M336.5 819.8 L562.8 731.4" fill="none" stroke="#1d1d1b" stroke-width="2.4" stroke-linejoin="round" stroke-linecap="round"/>
<path d="M562.8 731.4 L749.6 922.6 Q756.5 930 750.5 935.6" fill="none" stroke="#1d1d1b" stroke-width="2.4" stroke-linejoin="round" stroke-linecap="round"/>
<path d="M474.7 1043.3 L750.5 935.3" fill="none" stroke="#1d1d1b" stroke-width="2.4" stroke-linejoin="round" stroke-linecap="round"/>
<path d="M474.7 1045.6 L481.6 1057.1" fill="none" stroke="#1d1d1b" stroke-width="2.4" stroke-linejoin="round" stroke-linecap="round"/>
<path d="M481.8 1057.1 L588 1014.4 L588 1237.3 L481.8 1278.3 Z" fill="none" stroke="#1d1d1b" stroke-width="2.4" stroke-linejoin="round" stroke-linecap="round"/>
<path d="M602 1248.3 L588 1237.3" fill="none" stroke="#1d1d1b" stroke-width="2.4" stroke-linejoin="round" stroke-linecap="round"/>
<path d="M466 1301.7 L481.8 1278.3" fill="none" stroke="#1d1d1b" stroke-width="2.4" stroke-linejoin="round" stroke-linecap="round"/>
<path d="M588 1014.4 L594.3 997.5" fill="none" stroke="#1d1d1b" stroke-width="2.4" stroke-linejoin="round" stroke-linecap="round"/>
<path d="M466 1301.7 L602 1248.3" fill="none" stroke="#1d1d1b" stroke-width="2.4" stroke-linejoin="round" stroke-linecap="round"/>
<path d="M603.5 992.9 L603.5 1247.2" fill="none" stroke="#1d1d1b" stroke-width="3" stroke-linejoin="round" stroke-linecap="round"/>
<path d="M620.7 999.7 L726.4 958.6 L726.4 1181.3 L620.7 1221.7 Z" fill="none" stroke="#1d1d1b" stroke-width="2.4" stroke-linejoin="round" stroke-linecap="round"/>
<path d="M739.9 1191.3 L726.4 1181.3" fill="none" stroke="#1d1d1b" stroke-width="2.4" stroke-linejoin="round" stroke-linecap="round"/>
<path d="M605.5 1245.5 L620.7 1221.7" fill="none" stroke="#1d1d1b" stroke-width="2.4" stroke-linejoin="round" stroke-linecap="round"/>
<path d="M612.1 992.5 L620.7 999.7" fill="none" stroke="#1d1d1b" stroke-width="2.4" stroke-linejoin="round" stroke-linecap="round"/>
<path d="M726.4 958.6 L733 943.2" fill="none" stroke="#1d1d1b" stroke-width="2.4" stroke-linejoin="round" stroke-linecap="round"/>
<path d="M605.5 1245.5 L740.3 1192.4" fill="none" stroke="#1d1d1b" stroke-width="2.4" stroke-linejoin="round" stroke-linecap="round"/>
<path d="M739.9 939.5 L739.9 1192" fill="none" stroke="#1d1d1b" stroke-width="2.4" stroke-linejoin="round" stroke-linecap="round"/>
<path d="M462.5 1324.9 L717.5 1219.5" fill="none" stroke="#1d1d1b" stroke-width="2.4" stroke-linejoin="round" stroke-linecap="round"/>
<path d="M717.5 1203 L717.5 1221.4 L728.5 1231.6 L728.5 1198.7" fill="none" stroke="#1d1d1b" stroke-width="2.4" stroke-linejoin="round" stroke-linecap="round"/>
<path d="M728.5 1231.6 L740.6 1225.4 L740.6 1192.4" fill="none" stroke="#1d1d1b" stroke-width="2.4" stroke-linejoin="round" stroke-linecap="round"/>
<path d="M734.7 1195.7 L734.7 1228.3" fill="none" stroke="#1d1d1b" stroke-width="1.8" stroke-linejoin="round" stroke-linecap="round"/>
<path d="M569.5 1042.7 L575.5 1042.7 L575.5 1048.2 L570 1046.7 Z" fill="#fff" stroke="#1d1d1b" stroke-width="1.2" stroke-linejoin="round" stroke-linecap="round"/>
<path d="M569.5 1042.7 L571.5 1041.1 L577 1041.1" fill="none" stroke="#1d1d1b" stroke-width="1.2" stroke-linejoin="round" stroke-linecap="round"/>
<path d="M569.5 1099.8 L575.5 1099.8 L575.5 1105.3 L570 1103.8 Z" fill="#fff" stroke="#1d1d1b" stroke-width="1.2" stroke-linejoin="round" stroke-linecap="round"/>
<path d="M569.5 1099.8 L571.5 1098.2 L577 1098.2" fill="none" stroke="#1d1d1b" stroke-width="1.2" stroke-linejoin="round" stroke-linecap="round"/>
<path d="M575.7 1043.9 L577.2 1042.1 L582.6 1041.7 L583.8 1043.3 L583.8 1107.7 L580.3 1109.2 L575.7 1107.7 Z" fill="#f3f3f3" stroke="#1d1d1b" stroke-width="1.2" stroke-linejoin="round" stroke-linecap="round"/>
<path d="M579.4 1044.1 L583.4 1043.5 L583.4 1107.4 L579.4 1108.6 Z" fill="#dcdcdc" stroke="none" stroke-width="0" stroke-linejoin="round" stroke-linecap="round"/>
<path d="M579.4 1043.9 L579.4 1108.7" fill="none" stroke="#1d1d1b" stroke-width="1.2" stroke-linejoin="round" stroke-linecap="round"/>
<path d="M575.7 1043.9 L579.4 1044.1 L583.8 1043.3" fill="none" stroke="#1d1d1b" stroke-width="1.2" stroke-linejoin="round" stroke-linecap="round"/>
<path d="M575.7 1043.9 L577.2 1042.1 L582.6 1041.7 L583.8 1043.3 L583.8 1107.7 L580.3 1109.2 L575.7 1107.7 Z" fill="none" stroke="#1d1d1b" stroke-width="1.2" stroke-linejoin="round" stroke-linecap="round"/>
<path d="M625.1 1022.6 L631.1 1022.6 L631.1 1028.1 L625.6 1026.6 Z" fill="#fff" stroke="#1d1d1b" stroke-width="1.2" stroke-linejoin="round" stroke-linecap="round"/>
<path d="M625.1 1022.6 L627.1 1021 L632.6 1021" fill="none" stroke="#1d1d1b" stroke-width="1.2" stroke-linejoin="round" stroke-linecap="round"/>
<path d="M625.1 1079.7 L631.1 1079.7 L631.1 1085.2 L625.6 1083.7 Z" fill="#fff" stroke="#1d1d1b" stroke-width="1.2" stroke-linejoin="round" stroke-linecap="round"/>
<path d="M625.1 1079.7 L627.1 1078.1 L632.6 1078.1" fill="none" stroke="#1d1d1b" stroke-width="1.2" stroke-linejoin="round" stroke-linecap="round"/>
<path d="M631.3 1023.8 L632.8 1022 L638.2 1021.6 L639.4 1023.2 L639.4 1087.6 L635.9 1089.1 L631.3 1087.6 Z" fill="#f3f3f3" stroke="#1d1d1b" stroke-width="1.2" stroke-linejoin="round" stroke-linecap="round"/>
<path d="M635 1024 L639 1023.4 L639 1087.3 L635 1088.5 Z" fill="#dcdcdc" stroke="none" stroke-width="0" stroke-linejoin="round" stroke-linecap="round"/>
<path d="M635 1023.8 L635 1088.6" fill="none" stroke="#1d1d1b" stroke-width="1.2" stroke-linejoin="round" stroke-linecap="round"/>
<path d="M631.3 1023.8 L635 1024 L639.4 1023.2" fill="none" stroke="#1d1d1b" stroke-width="1.2" stroke-linejoin="round" stroke-linecap="round"/>
<path d="M631.3 1023.8 L632.8 1022 L638.2 1021.6 L639.4 1023.2 L639.4 1087.6 L635.9 1089.1 L631.3 1087.6 Z" fill="none" stroke="#1d1d1b" stroke-width="1.2" stroke-linejoin="round" stroke-linecap="round"/>
<path d="M744.5 912.4 L1006.1 809.2" fill="none" stroke="#1d1d1b" stroke-width="2.4" stroke-linejoin="round" stroke-linecap="round"/>
<path d="M750.3 919.7 L1014.2 814.9" fill="none" stroke="#1d1d1b" stroke-width="2.4" stroke-linejoin="round" stroke-linecap="round"/>
<path d="M753.2 936.3 L758 942.1" fill="none" stroke="#1d1d1b" stroke-width="2.4" stroke-linejoin="round" stroke-linecap="round"/>
<path d="M758 942.1 L864.3 900.3 L864.3 1122.5 L758 1165 Z" fill="none" stroke="#1d1d1b" stroke-width="2.4" stroke-linejoin="round" stroke-linecap="round"/>
<path d="M878.6 868.8 L864.3 900.3" fill="none" stroke="#1d1d1b" stroke-width="2.4" stroke-linejoin="round" stroke-linecap="round"/>
<path d="M878.4 1133 L864.3 1122.5" fill="none" stroke="#1d1d1b" stroke-width="2.4" stroke-linejoin="round" stroke-linecap="round"/>
<path d="M741.3 1190 L758 1165" fill="none" stroke="#1d1d1b" stroke-width="2.4" stroke-linejoin="round" stroke-linecap="round"/>
<path d="M741.3 1190 L878.4 1133" fill="none" stroke="#1d1d1b" stroke-width="2.4" stroke-linejoin="round" stroke-linecap="round"/>
<path d="M880.5 868 L880.5 1133" fill="none" stroke="#1d1d1b" stroke-width="3.2" stroke-linejoin="round" stroke-linecap="round"/>
<path d="M897.2 886 L1003.8 842.7 L1003.8 1068 L897.2 1109.3 Z" fill="none" stroke="#1d1d1b" stroke-width="2.4" stroke-linejoin="round" stroke-linecap="round"/>
<path d="M881.6 867.6 L897.2 886" fill="none" stroke="#1d1d1b" stroke-width="2.4" stroke-linejoin="round" stroke-linecap="round"/>
<path d="M1014.2 814.9 L1003.8 842.7" fill="none" stroke="#1d1d1b" stroke-width="2.4" stroke-linejoin="round" stroke-linecap="round"/>
<path d="M1016.8 1077.3 L1003.8 1068" fill="none" stroke="#1d1d1b" stroke-width="2.4" stroke-linejoin="round" stroke-linecap="round"/>
<path d="M882.5 1132.5 L897.2 1109.3" fill="none" stroke="#1d1d1b" stroke-width="2.4" stroke-linejoin="round" stroke-linecap="round"/>
<path d="M882.5 1132.5 L1020.5 1076.7" fill="none" stroke="#1d1d1b" stroke-width="2.4" stroke-linejoin="round" stroke-linecap="round"/>
<path d="M1016.8 816.5 L1016.8 1077.3" fill="none" stroke="#1d1d1b" stroke-width="2.4" stroke-linejoin="round" stroke-linecap="round"/>
<path d="M1020.5 816 L1020.5 1111.7" fill="none" stroke="#1d1d1b" stroke-width="2.4" stroke-linejoin="round" stroke-linecap="round"/>
<path d="M740.3 1210.5 L995.7 1108.3" fill="none" stroke="#1d1d1b" stroke-width="2.4" stroke-linejoin="round" stroke-linecap="round"/>
<path d="M995.7 1089 L995.7 1108.3 L1006.7 1119.3 L1006.7 1084.5" fill="none" stroke="#1d1d1b" stroke-width="2.4" stroke-linejoin="round" stroke-linecap="round"/>
<path d="M1006.7 1119.3 L1020.5 1111.7" fill="none" stroke="#1d1d1b" stroke-width="2.4" stroke-linejoin="round" stroke-linecap="round"/>
<path d="M1013.3 1080 L1013.3 1115.5" fill="none" stroke="#1d1d1b" stroke-width="1.4" stroke-linejoin="round" stroke-linecap="round"/>
<path d="M847 930.4 L853 930.4 L853 935.9 L847.5 934.4 Z" fill="#fff" stroke="#1d1d1b" stroke-width="1.2" stroke-linejoin="round" stroke-linecap="round"/>
<path d="M847 930.4 L849 928.8 L854.5 928.8" fill="none" stroke="#1d1d1b" stroke-width="1.2" stroke-linejoin="round" stroke-linecap="round"/>
<path d="M847 987.5 L853 987.5 L853 993 L847.5 991.5 Z" fill="#fff" stroke="#1d1d1b" stroke-width="1.2" stroke-linejoin="round" stroke-linecap="round"/>
<path d="M847 987.5 L849 985.9 L854.5 985.9" fill="none" stroke="#1d1d1b" stroke-width="1.2" stroke-linejoin="round" stroke-linecap="round"/>
<path d="M853.2 931.6 L854.7 929.8 L860.1 929.4 L861.3 931 L861.3 995.4 L857.8 996.9 L853.2 995.4 Z" fill="#f3f3f3" stroke="#1d1d1b" stroke-width="1.2" stroke-linejoin="round" stroke-linecap="round"/>
<path d="M856.9 931.8 L860.9 931.2 L860.9 995.1 L856.9 996.3 Z" fill="#dcdcdc" stroke="none" stroke-width="0" stroke-linejoin="round" stroke-linecap="round"/>
<path d="M856.9 931.6 L856.9 996.4" fill="none" stroke="#1d1d1b" stroke-width="1.2" stroke-linejoin="round" stroke-linecap="round"/>
<path d="M853.2 931.6 L856.9 931.8 L861.3 931" fill="none" stroke="#1d1d1b" stroke-width="1.2" stroke-linejoin="round" stroke-linecap="round"/>
<path d="M853.2 931.6 L854.7 929.8 L860.1 929.4 L861.3 931 L861.3 995.4 L857.8 996.9 L853.2 995.4 Z" fill="none" stroke="#1d1d1b" stroke-width="1.2" stroke-linejoin="round" stroke-linecap="round"/>
<path d="M901.5 908.4 L907.5 908.4 L907.5 913.9 L902 912.4 Z" fill="#fff" stroke="#1d1d1b" stroke-width="1.2" stroke-linejoin="round" stroke-linecap="round"/>
<path d="M901.5 908.4 L903.5 906.8 L909 906.8" fill="none" stroke="#1d1d1b" stroke-width="1.2" stroke-linejoin="round" stroke-linecap="round"/>
<path d="M901.5 965.5 L907.5 965.5 L907.5 971 L902 969.5 Z" fill="#fff" stroke="#1d1d1b" stroke-width="1.2" stroke-linejoin="round" stroke-linecap="round"/>
<path d="M901.5 965.5 L903.5 963.9 L909 963.9" fill="none" stroke="#1d1d1b" stroke-width="1.2" stroke-linejoin="round" stroke-linecap="round"/>
<path d="M907.7 909.6 L909.2 907.8 L914.6 907.4 L915.8 909 L915.8 973.4 L912.3 974.9 L907.7 973.4 Z" fill="#f3f3f3" stroke="#1d1d1b" stroke-width="1.2" stroke-linejoin="round" stroke-linecap="round"/>
<path d="M911.4 909.8 L915.4 909.2 L915.4 973.1 L911.4 974.3 Z" fill="#dcdcdc" stroke="none" stroke-width="0" stroke-linejoin="round" stroke-linecap="round"/>
<path d="M911.4 909.6 L911.4 974.4" fill="none" stroke="#1d1d1b" stroke-width="1.2" stroke-linejoin="round" stroke-linecap="round"/>
<path d="M907.7 909.6 L911.4 909.8 L915.8 909" fill="none" stroke="#1d1d1b" stroke-width="1.2" stroke-linejoin="round" stroke-linecap="round"/>
<path d="M907.7 909.6 L909.2 907.8 L914.6 907.4 L915.8 909 L915.8 973.4 L912.3 974.9 L907.7 973.4 Z" fill="none" stroke="#1d1d1b" stroke-width="1.2" stroke-linejoin="round" stroke-linecap="round"/>
<path d="M598.3 767.2 L865.8 658.9" fill="none" stroke="#1d1d1b" stroke-width="2.4" stroke-linejoin="round" stroke-linecap="round"/>
<path d="M605.4 774.7 L865.8 669.5" fill="none" stroke="#1d1d1b" stroke-width="2.4" stroke-linejoin="round" stroke-linecap="round"/>
<path d="M624.6 794.2 L865.8 698.6" fill="none" stroke="#1d1d1b" stroke-width="2.4" stroke-linejoin="round" stroke-linecap="round"/>
<path d="M861.5 662.5 L865.8 669.3 L865.8 698.6" fill="none" stroke="#1d1d1b" stroke-width="2.4" stroke-linejoin="round" stroke-linecap="round"/>
<path d="M859.2 702 L859.2 867.2" fill="none" stroke="#1d1d1b" stroke-width="1.8" stroke-linejoin="round" stroke-linecap="round"/>
<path d="M869.8 661.9 L1017.9 813.3" fill="none" stroke="#1d1d1b" stroke-width="3.4" stroke-linejoin="round" stroke-linecap="round"/>
<path d="M869.4 672.3 L1004 807.2" fill="none" stroke="#1d1d1b" stroke-width="2.4" stroke-linejoin="round" stroke-linecap="round"/>
<path d="M865.8 658.9 L869.8 661.9" fill="none" stroke="#1d1d1b" stroke-width="1.6" stroke-linejoin="round" stroke-linecap="round"/>
<path d="M842 632.5 L842 616.9 L1049 533.6" fill="none" stroke="#1d1d1b" stroke-width="2.4" stroke-linejoin="round" stroke-linecap="round"/>
<path d="M1049 533.6 L1236.3 722.9 Q1243.5 731 1237 738.6 L1032.5 821.3" fill="none" stroke="#1d1d1b" stroke-width="2.4" stroke-linejoin="round" stroke-linecap="round"/>
<path d="M842 616.9 L1030.5 810.1" fill="none" stroke="#1d1d1b" stroke-width="2.4" stroke-linejoin="round" stroke-linecap="round"/>
<path d="M842 632.5 L1026.2 820.7" fill="none" stroke="#1d1d1b" stroke-width="2.4" stroke-linejoin="round" stroke-linecap="round"/>
<path d="M1030.5 810.1 Q1035 815 1032.5 819 Q1030 823 1026.2 820.7" fill="none" stroke="#1d1d1b" stroke-width="2.4" stroke-linejoin="round" stroke-linecap="round"/>
<path d="M1032.5 822.3 L1038.8 829.4" fill="none" stroke="#1d1d1b" stroke-width="2.4" stroke-linejoin="round" stroke-linecap="round"/>
<path d="M1038.8 829.4 L1106 803.1 L1106 1023.3 L1038.8 1050 Z" fill="none" stroke="#1d1d1b" stroke-width="2.4" stroke-linejoin="round" stroke-linecap="round"/>
<path d="M1122.5 1035.3 L1106 1023.3" fill="none" stroke="#1d1d1b" stroke-width="2.4" stroke-linejoin="round" stroke-linecap="round"/>
<path d="M1020.7 1076.7 L1038.8 1050" fill="none" stroke="#1d1d1b" stroke-width="2.4" stroke-linejoin="round" stroke-linecap="round"/>
<path d="M1106 803.1 L1111.3 790.4" fill="none" stroke="#1d1d1b" stroke-width="2.4" stroke-linejoin="round" stroke-linecap="round"/>
<path d="M1020.7 1076.7 L1123.3 1035" fill="none" stroke="#1d1d1b" stroke-width="2.4" stroke-linejoin="round" stroke-linecap="round"/>
<path d="M1122.6 784.9 L1122.6 1035.3" fill="none" stroke="#1d1d1b" stroke-width="3" stroke-linejoin="round" stroke-linecap="round"/>
<path d="M1133.6 781.5 L1141 788" fill="none" stroke="#1d1d1b" stroke-width="2.4" stroke-linejoin="round" stroke-linecap="round"/>
<path d="M1141 788 L1209.2 761 L1209.2 984 L1141 1010 Z" fill="none" stroke="#1d1d1b" stroke-width="2.4" stroke-linejoin="round" stroke-linecap="round"/>
<path d="M1224.2 996.4 L1209.2 984" fill="none" stroke="#1d1d1b" stroke-width="2.4" stroke-linejoin="round" stroke-linecap="round"/>
<path d="M1125.7 1035 L1141 1010" fill="none" stroke="#1d1d1b" stroke-width="2.4" stroke-linejoin="round" stroke-linecap="round"/>
<path d="M1209.2 761 L1215.8 748.2" fill="none" stroke="#1d1d1b" stroke-width="2.4" stroke-linejoin="round" stroke-linecap="round"/>
<path d="M1125.7 1035 L1224.2 996.4" fill="none" stroke="#1d1d1b" stroke-width="2.4" stroke-linejoin="round" stroke-linecap="round"/>
<path d="M1226 743.1 L1226 994.6 L1224.2 996.4" fill="none" stroke="#1d1d1b" stroke-width="2.4" stroke-linejoin="round" stroke-linecap="round"/>
<path d="M1020.7 1098.3 L1204 1024.6" fill="none" stroke="#1d1d1b" stroke-width="2.4" stroke-linejoin="round" stroke-linecap="round"/>
<path d="M1204 1003.6 L1204 1024.6 L1215.5 1036.1 L1215.5 999.5" fill="none" stroke="#1d1d1b" stroke-width="2.4" stroke-linejoin="round" stroke-linecap="round"/>
<path d="M1215.5 1036.1 L1222.5 1031.8 L1222.5 996.8" fill="none" stroke="#1d1d1b" stroke-width="2.4" stroke-linejoin="round" stroke-linecap="round"/>
<path d="M1089.5 829.4 L1095.5 829.4 L1095.5 834.9 L1090 833.4 Z" fill="#fff" stroke="#1d1d1b" stroke-width="1.2" stroke-linejoin="round" stroke-linecap="round"/>
<path d="M1089.5 829.4 L1091.5 827.8 L1097 827.8" fill="none" stroke="#1d1d1b" stroke-width="1.2" stroke-linejoin="round" stroke-linecap="round"/>
<path d="M1089.5 886.5 L1095.5 886.5 L1095.5 892 L1090 890.5 Z" fill="#fff" stroke="#1d1d1b" stroke-width="1.2" stroke-linejoin="round" stroke-linecap="round"/>
<path d="M1089.5 886.5 L1091.5 884.9 L1097 884.9" fill="none" stroke="#1d1d1b" stroke-width="1.2" stroke-linejoin="round" stroke-linecap="round"/>
<path d="M1095.7 830.6 L1097.2 828.8 L1102.6 828.4 L1103.8 830 L1103.8 894.4 L1100.3 895.9 L1095.7 894.4 Z" fill="#f3f3f3" stroke="#1d1d1b" stroke-width="1.2" stroke-linejoin="round" stroke-linecap="round"/>
<path d="M1099.4 830.8 L1103.4 830.2 L1103.4 894.1 L1099.4 895.3 Z" fill="#dcdcdc" stroke="none" stroke-width="0" stroke-linejoin="round" stroke-linecap="round"/>
<path d="M1099.4 830.6 L1099.4 895.4" fill="none" stroke="#1d1d1b" stroke-width="1.2" stroke-linejoin="round" stroke-linecap="round"/>
<path d="M1095.7 830.6 L1099.4 830.8 L1103.8 830" fill="none" stroke="#1d1d1b" stroke-width="1.2" stroke-linejoin="round" stroke-linecap="round"/>
<path d="M1095.7 830.6 L1097.2 828.8 L1102.6 828.4 L1103.8 830 L1103.8 894.4 L1100.3 895.9 L1095.7 894.4 Z" fill="none" stroke="#1d1d1b" stroke-width="1.2" stroke-linejoin="round" stroke-linecap="round"/>
<path d="M1144.5 808.2 L1150.5 808.2 L1150.5 813.7 L1145 812.2 Z" fill="#fff" stroke="#1d1d1b" stroke-width="1.2" stroke-linejoin="round" stroke-linecap="round"/>
<path d="M1144.5 808.2 L1146.5 806.6 L1152 806.6" fill="none" stroke="#1d1d1b" stroke-width="1.2" stroke-linejoin="round" stroke-linecap="round"/>
<path d="M1144.5 865.3 L1150.5 865.3 L1150.5 870.8 L1145 869.3 Z" fill="#fff" stroke="#1d1d1b" stroke-width="1.2" stroke-linejoin="round" stroke-linecap="round"/>
<path d="M1144.5 865.3 L1146.5 863.7 L1152 863.7" fill="none" stroke="#1d1d1b" stroke-width="1.2" stroke-linejoin="round" stroke-linecap="round"/>
<path d="M1150.7 809.4 L1152.2 807.6 L1157.6 807.2 L1158.8 808.8 L1158.8 873.2 L1155.3 874.7 L1150.7 873.2 Z" fill="#f3f3f3" stroke="#1d1d1b" stroke-width="1.2" stroke-linejoin="round" stroke-linecap="round"/>
<path d="M1154.4 809.6 L1158.4 809 L1158.4 872.9 L1154.4 874.1 Z" fill="#dcdcdc" stroke="none" stroke-width="0" stroke-linejoin="round" stroke-linecap="round"/>
<path d="M1154.4 809.4 L1154.4 874.2" fill="none" stroke="#1d1d1b" stroke-width="1.2" stroke-linejoin="round" stroke-linecap="round"/>
<path d="M1150.7 809.4 L1154.4 809.6 L1158.8 808.8" fill="none" stroke="#1d1d1b" stroke-width="1.2" stroke-linejoin="round" stroke-linecap="round"/>
<path d="M1150.7 809.4 L1152.2 807.6 L1157.6 807.2 L1158.8 808.8 L1158.8 873.2 L1155.3 874.7 L1150.7 873.2 Z" fill="none" stroke="#1d1d1b" stroke-width="1.2" stroke-linejoin="round" stroke-linecap="round"/>
<path d="M128.1 411.2 L199.3 381.5" fill="none" stroke="#1d1d1b" stroke-width="2.2" stroke-linejoin="round" stroke-linecap="butt"/>
<path d="M100.7 422.7 L135 394.5 L144.8 418.1 Z" fill="#1d1d1b" stroke="none" stroke-width="0" stroke-linejoin="round" stroke-linecap="round"/>
<path d="M226.7 370 L192.4 398.2 L182.6 374.6 Z" fill="#1d1d1b" stroke="none" stroke-width="0" stroke-linejoin="round" stroke-linecap="round"/>
<path d="M254.3 358.9 L486.1 265.1" fill="none" stroke="#1d1d1b" stroke-width="2.2" stroke-linejoin="round" stroke-linecap="butt"/>
<path d="M226.7 370 L261.3 342.2 L270.9 365.9 Z" fill="#1d1d1b" stroke="none" stroke-width="0" stroke-linejoin="round" stroke-linecap="round"/>
<path d="M513.7 254 L479.1 281.8 L469.5 258.1 Z" fill="#1d1d1b" stroke="none" stroke-width="0" stroke-linejoin="round" stroke-linecap="round"/>
<path d="M541.2 242.7 L776.2 146.3" fill="none" stroke="#1d1d1b" stroke-width="2.2" stroke-linejoin="round" stroke-linecap="butt"/>
<path d="M513.7 254 L548.2 226 L557.9 249.7 Z" fill="#1d1d1b" stroke="none" stroke-width="0" stroke-linejoin="round" stroke-linecap="round"/>
<path d="M803.7 135 L769.2 163 L759.5 139.3 Z" fill="#1d1d1b" stroke="none" stroke-width="0" stroke-linejoin="round" stroke-linecap="round"/>
<path d="M831.2 123.8 L974.8 65.2" fill="none" stroke="#1d1d1b" stroke-width="2.2" stroke-linejoin="round" stroke-linecap="butt"/>
<path d="M803.7 135 L838.2 107.1 L847.9 130.8 Z" fill="#1d1d1b" stroke="none" stroke-width="0" stroke-linejoin="round" stroke-linecap="round"/>
<path d="M1002.3 54 L967.8 81.9 L958.1 58.2 Z" fill="#1d1d1b" stroke="none" stroke-width="0" stroke-linejoin="round" stroke-linecap="round"/>
<path d="M1083.9 134.2 L1133.4 185.8" fill="none" stroke="#1d1d1b" stroke-width="2.2" stroke-linejoin="round" stroke-linecap="butt"/>
<path d="M1063.3 112.7 L1102 134.5 L1083.5 152.2 Z" fill="#1d1d1b" stroke="none" stroke-width="0" stroke-linejoin="round" stroke-linecap="round"/>
<path d="M1154 207.3 L1115.3 185.5 L1133.8 167.8 Z" fill="#1d1d1b" stroke="none" stroke-width="0" stroke-linejoin="round" stroke-linecap="round"/>
<path d="M1169.7 243.1 L1169.7 403.6" fill="none" stroke="#1d1d1b" stroke-width="2.2" stroke-linejoin="round" stroke-linecap="butt"/>
<path d="M1169.7 213.3 L1182.5 255.8 L1156.9 255.8 Z" fill="#1d1d1b" stroke="none" stroke-width="0" stroke-linejoin="round" stroke-linecap="round"/>
<path d="M1169.7 433.3 L1156.9 390.8 L1182.5 390.8 Z" fill="#1d1d1b" stroke="none" stroke-width="0" stroke-linejoin="round" stroke-linecap="round"/>
<path d="M1130.3 511.8 L1288.7 682.2" fill="none" stroke="#1d1d1b" stroke-width="2.2" stroke-linejoin="round" stroke-linecap="butt"/>
<path d="M1110 490 L1148.3 512.4 L1129.6 529.8 Z" fill="#1d1d1b" stroke="none" stroke-width="0" stroke-linejoin="round" stroke-linecap="round"/>
<path d="M1309 704 L1270.7 681.6 L1289.4 664.2 Z" fill="#1d1d1b" stroke="none" stroke-width="0" stroke-linejoin="round" stroke-linecap="round"/>
<path d="M1307.3 751.5 L1307.3 993" fill="none" stroke="#1d1d1b" stroke-width="2.2" stroke-linejoin="round" stroke-linecap="butt"/>
<path d="M1307.3 721.7 L1320.1 764.2 L1294.5 764.2 Z" fill="#1d1d1b" stroke="none" stroke-width="0" stroke-linejoin="round" stroke-linecap="round"/>
<path d="M1307.3 1022.7 L1294.5 980.2 L1320.1 980.2 Z" fill="#1d1d1b" stroke="none" stroke-width="0" stroke-linejoin="round" stroke-linecap="round"/>
<path d="M414.8 1486.8 L1278.1 1136.2" fill="none" stroke="#1d1d1b" stroke-width="2.2" stroke-linejoin="round" stroke-linecap="butt"/>
<path d="M387.2 1498 L421.8 1470.1 L431.4 1493.9 Z" fill="#1d1d1b" stroke="none" stroke-width="0" stroke-linejoin="round" stroke-linecap="round"/>
<path d="M1305.7 1125 L1271.1 1152.9 L1261.5 1129.1 Z" fill="#1d1d1b" stroke="none" stroke-width="0" stroke-linejoin="round" stroke-linecap="round"/>
<path d="M124.3 1313.4 L225.4 1421.6" fill="none" stroke="#1d1d1b" stroke-width="2.2" stroke-linejoin="round" stroke-linecap="butt"/>
<path d="M104 1291.7 L142.4 1314 L123.7 1331.5 Z" fill="#1d1d1b" stroke="none" stroke-width="0" stroke-linejoin="round" stroke-linecap="round"/>
<path d="M245.7 1443.3 L207.3 1421 L226 1403.5 Z" fill="#1d1d1b" stroke="none" stroke-width="0" stroke-linejoin="round" stroke-linecap="round"/>
<path d="M74 539.8 L74 872" fill="none" stroke="#1d1d1b" stroke-width="2.2" stroke-linejoin="round" stroke-linecap="butt"/>
<path d="M74 510 L86.8 552.5 L61.2 552.5 Z" fill="#1d1d1b" stroke="none" stroke-width="0" stroke-linejoin="round" stroke-linecap="round"/>
<path d="M74 901.7 L61.2 859.2 L86.8 859.2 Z" fill="#1d1d1b" stroke="none" stroke-width="0" stroke-linejoin="round" stroke-linecap="round"/>
<g opacity="0.999">
<text transform="translate(157 385.5) rotate(-22) scale(0.99 1)" font-size="50.5" text-anchor="middle" stroke="#fff" stroke-width="0.7" letter-spacing="0" dominant-baseline="alphabetic">40</text>
<text transform="translate(361 303) rotate(-22) scale(0.99 1)" font-size="50.5" text-anchor="middle" stroke="#fff" stroke-width="0.7" letter-spacing="0" dominant-baseline="alphabetic">80</text>
<text transform="translate(650 187) rotate(-22) scale(0.99 1)" font-size="50.5" text-anchor="middle" stroke="#fff" stroke-width="0.7" letter-spacing="0" dominant-baseline="alphabetic">80</text>
<text transform="translate(902 83) rotate(-22) scale(0.99 1)" font-size="50.5" text-anchor="middle" stroke="#fff" stroke-width="0.7" letter-spacing="0" dominant-baseline="alphabetic">60</text>
<text transform="translate(1118.3 140) rotate(46) scale(0.99 1)" font-size="50.5" text-anchor="middle" stroke="#fff" stroke-width="0.7" letter-spacing="0" dominant-baseline="alphabetic">3</text>
<text transform="translate(1124.5 325) rotate(90) scale(0.99 1)" font-size="50.5" text-anchor="middle" stroke="#fff" stroke-width="0.7" letter-spacing="0" dominant-baseline="alphabetic">80</text>
<text transform="translate(1215 590) rotate(47) scale(0.99 1)" font-size="50.5" text-anchor="middle" stroke="#fff" stroke-width="0.7" letter-spacing="0" dominant-baseline="alphabetic">60</text>
<text transform="translate(1324 875) rotate(90) scale(0.99 1)" font-size="50.5" text-anchor="middle" stroke="#fff" stroke-width="0.7" letter-spacing="0" dominant-baseline="alphabetic">85</text>
<text transform="translate(860.7 1278.1) rotate(-21.7) scale(0.985 1)" font-size="50.5" text-anchor="middle" stroke="#fff" stroke-width="0.7" letter-spacing="0" dominant-baseline="alphabetic">260 cm</text>
<text transform="translate(180.5 1358.5) rotate(47) scale(0.99 1)" font-size="51.5" text-anchor="middle" stroke="#fff" stroke-width="0.7" letter-spacing="0" dominant-baseline="alphabetic">45</text>
<text transform="translate(60 684.8) rotate(-90) scale(0.979 1)" font-size="50.5" text-anchor="middle" stroke="#fff" stroke-width="0.7" letter-spacing="0" dominant-baseline="alphabetic">20</text>
</g>
<polygon transform="translate(60.1 735) rotate(-90)" points="11.6,0 11.6,-35.6 8.2,-35.6 -1.2,-30.2 0.7,-27 7.5,-30.9 7.5,0" fill="#1d1d1b"/>
<polygon transform="translate(1132.2 155.4) rotate(46)" points="11.6,0 11.6,-35.6 8.2,-35.6 -1.2,-30.2 0.7,-27 7.5,-30.9 7.5,0" fill="#1d1d1b"/>
</svg>
</body></html>
